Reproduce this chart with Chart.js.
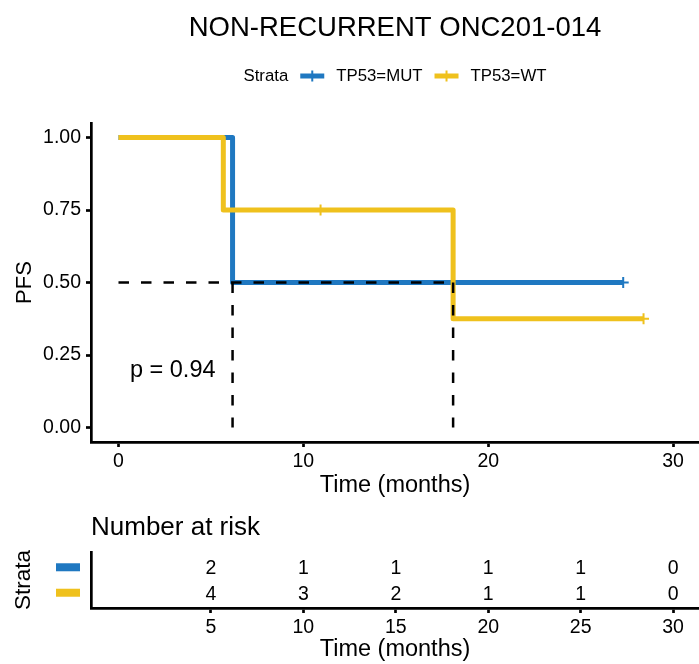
<!DOCTYPE html>
<html>
<head>
<meta charset="utf-8">
<script src="https://cdn.jsdelivr.net/npm/chart.js@4.4.0/dist/chart.umd.min.js"></script>
<style>
    body { margin: 0; background: #fff; }
    #wrap { position: relative; width: 699px; height: 664px; }
    canvas { position: absolute; left: 0; }
</style>
</head>
<body>
<div id="wrap">
    <canvas id="surv" width="699" height="500" style="top:0"></canvas>
    <canvas id="risk" width="699" height="164" style="top:500px"></canvas>
</div>
<script>
// survival curves (time in months)
var mutTimes = [0, 6.17, 27.3];
var mutSurv = [1, 0.5, 0.5];
var mutCensorTimes = [27.3];
var mutCensorSurv = [0.5];
var wtTimes = [0, 5.67, 18.1, 28.4];
var wtSurv = [1, 0.75, 0.375, 0.375];
var wtCensorTimes = [10.93, 28.4];
var wtCensorSurv = [0.75, 0.375];
var medianSurv = 0.5;
var medianTimes = [6.17, 18.1];
var pValueText = 'p = 0.94';
var pValuePos = [0.62, 0.195];
var strata = ['TP53=MUT', 'TP53=WT'];
var colors = ['#1f78c1', '#efc11d'];
var xTicks = [0, 10, 20, 30];
var yTicks = [0, 0.25, 0.5, 0.75, 1];

// number at risk
var riskTimes = [5, 10, 15, 20, 25, 30];
var riskMUT = [2, 1, 1, 1, 1, 0];
var riskWT = [4, 3, 2, 1, 1, 0];

var FONT = "'Liberation Sans', Arial, Helvetica, sans-serif";
Chart.defaults.font.family = FONT;
Chart.defaults.color = '#000';

function pts(xs, ys) {
    return xs.map(function(x, i) { return {x: x, y: ys[i]}; });
}

function dashed(data) {
    return {
        data: data,
        borderColor: '#000',
        borderWidth: 2.5,
        borderDash: [10.5, 12],
        pointRadius: 0,
        order: 0
    };
}

function curve(data, color, order) {
    return {
        data: data,
        stepped: true,
        borderColor: color,
        borderWidth: 5,
        borderJoinStyle: 'round',
        pointRadius: 0,
        order: order
    };
}

function censor(data, color, order) {
    return {
        data: data,
        showLine: false,
        pointStyle: 'cross',
        pointRadius: 5.5,
        pointBorderWidth: 2,
        pointBorderColor: color,
        order: order
    };
}

var axisBorder = { display: true, color: '#000', width: 2.7 };
var axisGrid = { drawOnChartArea: false, drawTicks: true, tickLength: 5, tickWidth: 2.7, tickColor: '#000' };

// p-value and strata legend
var survExtras = {
    id: 'survExtras',
    afterDraw: function(chart) {
        var ctx = chart.ctx;
        var area = chart.chartArea;
        var sx = chart.scales.x, sy = chart.scales.y;
        ctx.save();
        ctx.fillStyle = '#000';
        ctx.textBaseline = 'middle';
        ctx.textAlign = 'left';
        ctx.font = '23.5px ' + FONT;
        ctx.fillText(pValueText, sx.getPixelForValue(pValuePos[0]), sy.getPixelForValue(pValuePos[1]));

        ctx.font = '16.8px ' + FONT;
        var sym = 24, gapA = 12, gapB = 12;
        var total = ctx.measureText('Strata').width;
        strata.forEach(function(s) {
            total += gapA + sym + gapB + ctx.measureText(s).width;
        });
        var x = (area.left + area.right) / 2 - total / 2;
        var y = 76;
        ctx.fillText('Strata', x, y);
        x += ctx.measureText('Strata').width;
        strata.forEach(function(s, i) {
            x += gapA;
            ctx.strokeStyle = colors[i];
            ctx.lineWidth = 5;
            ctx.beginPath();
            ctx.moveTo(x, y);
            ctx.lineTo(x + sym, y);
            ctx.stroke();
            ctx.lineWidth = 2;
            ctx.beginPath();
            ctx.moveTo(x + sym / 2, y - 5.5);
            ctx.lineTo(x + sym / 2, y + 5.5);
            ctx.stroke();
            x += sym + gapB;
            ctx.fillText(s, x, y);
            x += ctx.measureText(s).width;
        });
        ctx.restore();
    }
};

var survChart = new Chart(document.getElementById('surv'), {
    type: 'line',
    data: {
        datasets: [
            dashed([{x: 0, y: medianSurv}, {x: medianTimes[1], y: medianSurv}]),
            dashed([{x: medianTimes[0], y: medianSurv}, {x: medianTimes[0], y: 0}]),
            dashed([{x: medianTimes[1], y: medianSurv}, {x: medianTimes[1], y: 0}]),
            censor(pts(wtCensorTimes, wtCensorSurv), colors[1], 1),
            curve(pts(wtTimes, wtSurv), colors[1], 2),
            censor(pts(mutCensorTimes, mutCensorSurv), colors[0], 3),
            curve(pts(mutTimes, mutSurv), colors[0], 4)
        ]
    },
    options: {
        responsive: false,
        animation: false,
        events: [],
        layout: { autoPadding: false, padding: 0 },
        scales: {
            x: {
                type: 'linear',
                min: -1.487,
                max: 31.4,
                border: axisBorder,
                grid: axisGrid,
                ticks: { font: { size: 19.5 }, padding: 2.5, color: '#000' },
                title: { display: true, text: 'Time (months)', font: { size: 23.5 }, padding: { top: 0, bottom: 0 } },
                afterBuildTicks: function(s) { s.ticks = xTicks.map(function(v) { return {value: v}; }); },
                afterFit: function(s) { s.height = 58; }
            },
            y: {
                min: -0.05,
                max: 1.05,
                border: axisBorder,
                grid: axisGrid,
                ticks: {
                    font: { size: 19.5 }, padding: 5, color: '#000',
                    callback: function(v) { return v.toFixed(2); }
                },
                title: { display: true, text: 'PFS', font: { size: 22 }, padding: { top: 11.8, bottom: 0 } },
                afterBuildTicks: function(s) { s.ticks = yTicks.map(function(v) { return {value: v}; }); },
                afterFit: function(s) { s.width = 91; }
            }
        },
        plugins: {
            legend: { display: false },
            tooltip: { enabled: false },
            title: {
                display: true,
                text: 'NON-RECURRENT ONC201-014',
                fullSize: false,
                color: '#000',
                font: { size: 27.5, weight: 'normal' },
                padding: { top: 12, bottom: 78 }
            }
        }
    },
    plugins: [survExtras]
});

// risk table: counts and colour keys
var riskCounts = [riskMUT, riskWT];
var riskRows = [2, 1];
var riskExtras = {
    id: 'riskExtras',
    afterDraw: function(chart) {
        var ctx = chart.ctx;
        var sx = chart.scales.x, sy = chart.scales.y;
        ctx.save();
        ctx.font = '19.5px ' + FONT;
        ctx.textAlign = 'center';
        ctx.textBaseline = 'middle';
        riskCounts.forEach(function(counts, r) {
            var py = sy.getPixelForValue(riskRows[r]);
            counts.forEach(function(n, i) {
                ctx.fillStyle = '#000';
                ctx.fillText(String(n), sx.getPixelForValue(riskTimes[i]), py + 1.5);
            });
            ctx.fillStyle = colors[r];
            ctx.fillRect(56, py - 4, 24, 8);
        });
        ctx.restore();
    }
};

var riskChart = new Chart(document.getElementById('risk'), {
    type: 'scatter',
    data: {
        datasets: riskCounts.map(function(counts, r) {
            return {
                data: riskTimes.map(function(t) { return {x: t, y: riskRows[r]}; }),
                pointRadius: 0
            };
        })
    },
    options: {
        responsive: false,
        animation: false,
        events: [],
        layout: { autoPadding: false, padding: 0 },
        scales: {
            x: {
                type: 'linear',
                min: -1.487,
                max: 31.4,
                border: axisBorder,
                grid: axisGrid,
                ticks: { font: { size: 19.5 }, padding: 2.5, color: '#000' },
                title: { display: true, text: 'Time (months)', font: { size: 23.5 }, padding: { top: 0, bottom: 0 } },
                afterBuildTicks: function(s) { s.ticks = riskTimes.map(function(v) { return {value: v}; }); },
                afterFit: function(s) { s.height = 56; }
            },
            y: {
                min: 0.4,
                max: 2.6,
                border: axisBorder,
                grid: { display: false },
                ticks: { display: false },
                title: { display: true, text: 'Strata', font: { size: 22.5 }, padding: { top: 10.5, bottom: 0 } },
                afterFit: function(s) { s.width = 91; }
            }
        },
        plugins: {
            legend: { display: false },
            tooltip: { enabled: false },
            title: {
                display: true,
                text: 'Number at risk',
                align: 'start',
                fullSize: false,
                color: '#000',
                font: { size: 26, weight: 'normal' },
                padding: { top: 12, bottom: 8.8 }
            }
        }
    },
    plugins: [riskExtras]
});
</script>
</body>
</html>
